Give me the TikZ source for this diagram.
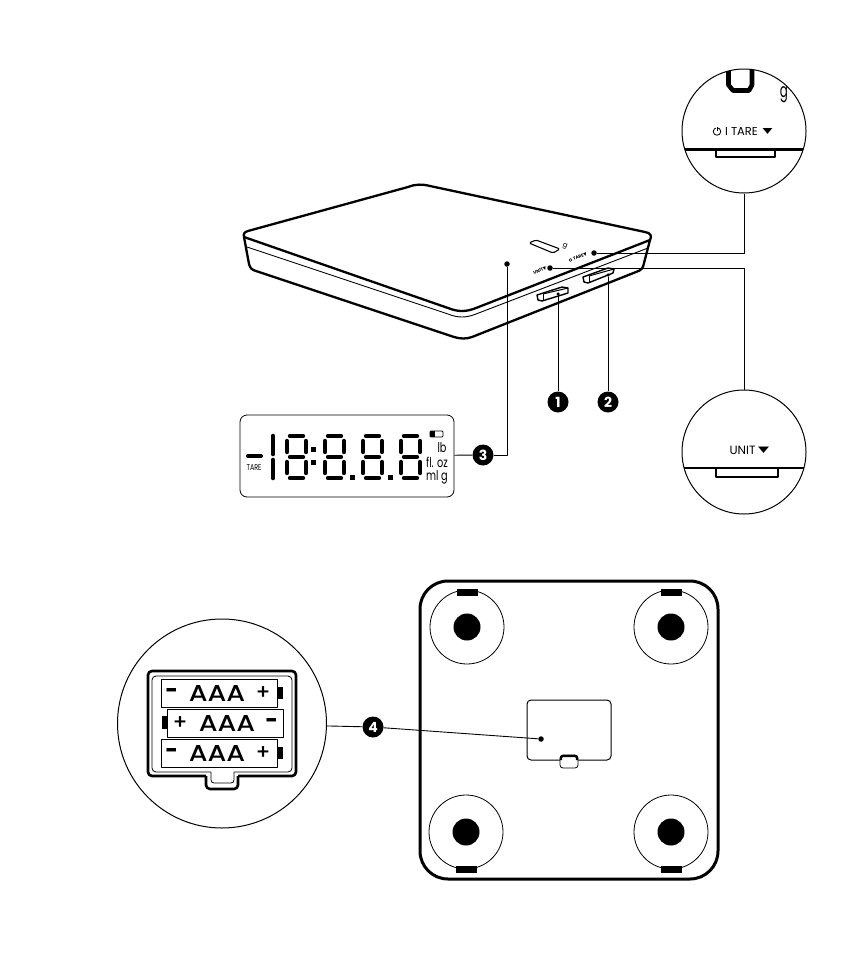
\documentclass[tikz,border=0pt]{standalone}
\usepackage{fontspec}
\setmainfont{Poppins}
\newfontfamily\symfont{DejaVu Sans}
\newfontfamily\trayfont{Poppins Medium}
\usetikzlibrary{positioning,shapes}

\begin{document}
\begin{tikzpicture}[x=1pt,y=-1pt,line join=round]
  \tikzstyle{outline}=[line width=2.3pt]
  \tikzstyle{hair}=[line width=0.9pt]
  \tikzstyle{leader}=[line width=0.9pt]
  \tikzstyle{lens}=[draw,circle,line width=1pt,inner sep=0pt,minimum size=124pt]
  \tikzstyle{badge}=[circle,fill=black,text=white,inner sep=0pt,minimum size=21pt,font=\fontsize{14}{14}\selectfont\bfseries]
  \tikzstyle{dot}=[circle,fill=black,inner sep=0pt,minimum size=5.5pt]
  \tikzstyle{smalldot}=[circle,fill=black,inner sep=0pt,minimum size=3.5pt]
  \tikzstyle{tiny}=[inner sep=0pt,rotate=22,font=\fontsize{4.4}{5}\selectfont\bfseries]
  \tikzstyle{unittext}=[inner sep=0pt,font=\fontsize{13.5}{14}\selectfont]
  \tikzstyle{seg}=[line width=4.4pt,line cap=round]
  \tikzstyle{cell}=[draw,line width=0.8pt,minimum width=116pt,minimum height=28pt,inner sep=0pt]
  \tikzstyle{aaa}=[inner sep=0pt,font=\fontsize{27}{27}\selectfont\trayfont]
  \tikzstyle{sign}=[inner sep=0pt,font=\fontsize{21}{21}\selectfont\trayfont]
  \tikzstyle{tri}=[inner sep=0pt,font=\fontsize{13}{13}\selectfont\symfont]
  \useasboundingbox (0,0) rectangle (850,964);

  % the scale
  \draw[hair] (247,247) -- (448,314) .. controls (458,318) and (466,318) .. (476,314) -- (648,248);
  \draw[outline] (244,237) .. controls (243,233) and (245,232) .. (248,231)
    -- (408,187) .. controls (416,184) and (422,184) .. (430,186)
    -- (645,232) .. controls (651,233) and (652,236) .. (650,240)
    -- (476,308) .. controls (466,312) and (458,312) .. (448,308) -- (244,237);
  \draw[outline] (244,237) -- (249,264) .. controls (250,268) and (252,270) .. (256,271)
    -- (454,337) .. controls (461,339) and (466,339) .. (472,337)
    -- (636,272) .. controls (642,270) and (643,268) .. (644,263) -- (650,240);
  \draw[line width=1.4pt,fill=white] (537,295) -- (562,287) -- (568,288) -- (568,293) -- (542,301) -- (538,300) -- cycle;
  \draw[line width=1pt] (543,294) -- (543,301);
  \draw[line width=1pt] (543,294) -- (568,288);
  \draw[line width=1.4pt,fill=white] (583,277) -- (608,268) -- (614,269) -- (613,273) -- (588,283) -- (584,282) -- cycle;
  \draw[line width=1pt] (589,276) -- (589,283);
  \draw[line width=1pt] (589,276) -- (614,269);
  \draw[line width=1.1pt,rounded corners=1.5pt] (529,243) -- (536,240) -- (560,249) -- (553,253) -- cycle;
  \node[inner sep=0pt,rotate=-20,font=\fontsize{7}{7}\selectfont] (smallg) at (565,246) {g};
  \node[tiny] (unitsmall) at (540,270.5) {UNIT{\symfont▼}};
  \node[draw,circle,line width=0.5pt,inner sep=0pt,minimum size=3pt] (powersmall) at (570.5,260) {};
  \node[tiny] (taresmall) at (580,256.5) {TARE{\symfont▼}};

  % the two close-ups of the keys
  \node[lens] (lensT) at (744,131) {};
  \node[lens] (lensU) at (744,452) {};
  \begin{scope}
    \clip (744,131) circle (62);
    \draw[line width=3pt] (680,149) -- (808,149);
    \draw[line width=2.4pt] (716,149) -- (716,157) -- (775,157) -- (775,149);
    \draw[line width=4.6pt] (728.5,60) -- (728.5,85) -- (733,90.5) -- (749,90.5) -- (752,85) -- (752,60);
  \end{scope}
  \begin{scope}
    \clip (744,452) circle (62);
    \draw[line width=2.4pt] (680,468) -- (808,468);
    \draw[line width=2.4pt] (716,468) -- (716,477) -- (778,477) -- (778,468);
  \end{scope}
  \node[inner sep=0pt] (gT) at (784,95) {\fontsize{17}{17}\selectfont\scalebox{.7}[1.15]{g}};
  \node[draw,circle,line width=0.8pt,inner sep=0pt,minimum size=7.5pt] (power) at (717,131.5) {};
  \draw[white,line width=2pt] (717,127) -- (717,130);
  \draw[line width=0.8pt] (717,127) -- (717,131);
  \node[inner sep=0pt,font=\fontsize{11.5}{12}\selectfont] (tareT) at (741.5,131) {I TARE};
  \node[tri] (triT) at (767.5,131) {\scalebox{1}[.6]{▼}};
  \node[inner sep=0pt,font=\fontsize{12}{12}\selectfont] (unitT) at (742.5,450) {UNIT};
  \node[tri] (triU) at (763.5,450) {\scalebox{1.1}[.65]{▼}};

  % the display
  \node[draw,line width=0.8pt,rounded corners=7pt,minimum width=214pt,minimum height=82pt,inner sep=0pt] (lcd) at (347,456) {};
  \draw[line width=4pt,line cap=round] (248,456) -- (261,456);
  \node[inner sep=0pt,font=\fontsize{8.5}{9}\selectfont] (tare) at (254,468) {\scalebox{.75}[1]{TARE}};
  \draw[line width=4.6pt,line cap=round] (273,436) -- (273,454);
  \draw[line width=4.6pt,line cap=round] (273,460) -- (273,478);
  \foreach \dx in {285,323,361,399}
  {
    \draw[seg] (\dx+5,436) -- (\dx+18,436);
    \draw[seg] (\dx+5,457) -- (\dx+18,457);
    \draw[seg] (\dx+5,478) -- (\dx+18,478);
    \draw[seg] (\dx+2,441) -- (\dx+2,452);
    \draw[seg] (\dx+21,441) -- (\dx+21,452);
    \draw[seg] (\dx+2,462) -- (\dx+2,473);
    \draw[seg] (\dx+21,462) -- (\dx+21,473);
  }
  \fill (310.5,446.5) rectangle (315.5,451.5);
  \fill (310.5,459.5) rectangle (315.5,464.5);
  \fill (350,475) rectangle (354.5,479.5);
  \fill (388,475) rectangle (392.5,479.5);
  \draw[line width=0.8pt,fill=white,rounded corners=1pt] (430,431) rectangle (443,437);
  \fill (430,431) rectangle (435,437);
  \node[unittext] (lb) at (442,448) {\scalebox{.72}[1]{lb}};
  \node[unittext] (floz) at (437,462) {\scalebox{.72}[1]{fl. oz}};
  \node[unittext] (mlg) at (437,477) {\scalebox{.72}[1]{ml g}};

  % the underside
  \draw[line width=3pt,rounded corners=28pt] (420,581) rectangle (718,879);
  \foreach \nm/\fx/\fy/\ty in {a/467/627/589,b/671/627/589,c/466/832/866,d/671/832/866}
  {
    \node[draw,circle,line width=0.8pt,inner sep=0pt,minimum size=74pt] (foot\nm) at (\fx,\fy) {};
    \node[circle,fill=black,inner sep=0pt,minimum size=27pt] (pad\nm) at (\fx,\fy) {};
    \fill (\fx-10.5,\ty) rectangle (\fx+10.5,\ty+7);
  }
  \draw[line width=1pt,rounded corners=4pt] (527,700) rectangle (611,760);
  \draw[line width=0.8pt,fill=white,rounded corners=3pt] (560,755) rectangle (578,768);
  \draw[line width=2.2pt,rounded corners=2pt] (561,760) -- (561,756) -- (577,756) -- (577,760);

  % the close-up of the battery tray
  \node[draw,circle,line width=1pt,inner sep=0pt,minimum size=209pt] (lensB) at (222,723.5) {};
  \draw[line width=2.6pt,rounded corners=4pt] (206,776) -- (148,776) -- (148,671) -- (296,671) -- (296,776) -- (238,776);
  \draw[line width=2.6pt,rounded corners=4pt] (206,776) -- (206,789) -- (238,789) -- (238,776);
  \draw[line width=0.8pt,rounded corners=4pt] (211,772) -- (152,772) -- (152,676) -- (292,676) -- (292,772) -- (234,772);
  \draw[line width=0.8pt,rounded corners=3pt] (211,772) -- (211,783) -- (234,783) -- (234,772);
  \node[cell] (cellA) at (219,693) {};
  \node[cell] (cellB) at (225,723) {};
  \node[cell] (cellC) at (219,753) {};
  \node[aaa] (aaaA) at (217,694) {\scalebox{1}[.85]{AAA}};
  \node[aaa] (aaaB) at (227,724) {\scalebox{1}[.85]{AAA}};
  \node[aaa] (aaaC) at (217,754) {\scalebox{1}[.85]{AAA}};
  \node[sign] (minusA) at (172,693) {\bfseries -};
  \node[sign] (plusA) at (263,693) {+};
  \node[sign] (plusB) at (180,723) {+};
  \node[sign] (minusB) at (272,723) {\bfseries -};
  \node[sign] (minusC) at (172,753) {\bfseries -};
  \node[sign] (plusC) at (263,753) {+};
  \fill (277,687) rectangle (283,699);
  \fill (162,716) rectangle (167,729);
  \fill (277,747) rectangle (283,759);

  % callouts
  \node[dot] (dotT) at (594,253) {};
  \node[dot] (dotU) at (550,268) {};
  \node[dot] (dotD) at (507,264) {};
  \node[smalldot] (dotK1) at (558,294) {};
  \node[smalldot] (dotK2) at (608,275) {};
  \node[dot] (dotB) at (541,739) {};
  \node[badge] (n1) at (558,402) {1};
  \node[badge] (n2) at (608,402) {2};
  \node[badge] (n3) at (483,455) {3};
  \node[badge] (n4) at (373,727) {4};

  \draw[leader] (dotT) -| (lensT.south);
  \draw[leader] (dotU) -| (lensU.north);
  \draw[leader] (dotD) |- (n3);
  \draw[leader] (n3) -- (lcd);
  \draw[leader] (dotK1) -- (n1);
  \draw[leader] (dotK2) -- (n2);
  \draw[leader] (lensB) -- (n4);
  \draw[leader] (n4) -- (dotB);
\end{tikzpicture}
\end{document}
